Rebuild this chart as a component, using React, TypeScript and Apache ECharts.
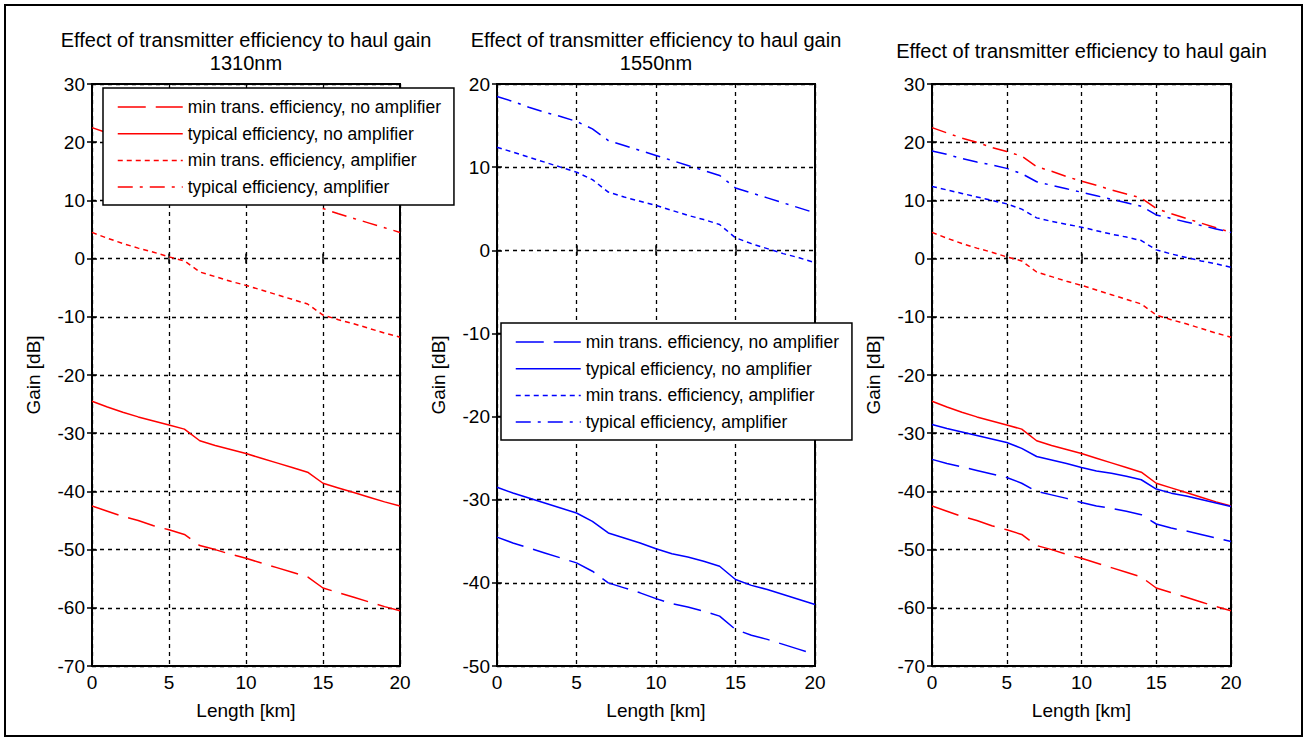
import React, { useEffect, useRef } from "react";
import * as echarts from "echarts";

// ---------- data ----------
const KM = [0, 1, 2, 3, 4, 5, 6, 7, 8, 9, 10, 11, 12, 13, 14, 15, 16, 17, 18, 19, 20];

// 1310 nm (red)
const R_MIN_NOAMP = [-42.5, -43.4, -44.3, -45.0, -45.9, -46.6, -47.4, -49.3, -50.0, -50.8, -51.5, -52.3, -53.1, -53.9, -54.7, -56.6, -57.4, -58.2, -59.0, -59.8, -60.5];
const R_TYP_NOAMP = [-24.5, -25.5, -26.4, -27.2, -27.9, -28.6, -29.3, -31.3, -32.1, -32.8, -33.5, -34.3, -35.1, -35.9, -36.7, -38.6, -39.4, -40.2, -41.0, -41.8, -42.5];
const R_MIN_AMP = [4.5, 3.5, 2.6, 1.8, 1.1, 0.3, -0.4, -2.3, -3.1, -3.9, -4.6, -5.4, -6.2, -7.0, -7.8, -9.7, -10.5, -11.2, -12.0, -12.8, -13.5];
const R_TYP_AMP = [22.5, 21.6, 20.7, 20.0, 19.1, 18.4, 17.6, 15.8, 15.0, 14.1, 13.3, 12.6, 11.8, 11.1, 10.4, 8.6, 7.7, 6.9, 6.1, 5.3, 4.5];

// 1550 nm (blue)
const B_MIN_NOAMP = [-34.5, -35.2, -35.8, -36.4, -37.0, -37.6, -38.6, -40.0, -40.6, -41.2, -41.9, -42.5, -42.9, -43.4, -44.0, -45.6, -46.3, -46.8, -47.4, -48.0, -48.6];
const B_TYP_NOAMP = [-28.5, -29.2, -29.8, -30.4, -31.0, -31.6, -32.6, -34.0, -34.6, -35.2, -35.9, -36.5, -36.9, -37.4, -38.0, -39.6, -40.3, -40.8, -41.4, -42.0, -42.6];
const B_MIN_AMP = [12.4, 11.8, 11.2, 10.6, 10.0, 9.4, 8.5, 7.0, 6.4, 5.9, 5.4, 4.8, 4.2, 3.7, 3.1, 1.5, 0.8, 0.2, -0.4, -0.9, -1.5];
const B_TYP_AMP = [18.5, 17.9, 17.2, 16.6, 16.1, 15.5, 14.6, 13.2, 12.6, 12.0, 11.4, 10.8, 10.2, 9.6, 9.0, 7.5, 6.9, 6.3, 5.7, 5.1, 4.5];

const LEGEND_LABELS = [
  "min trans. efficiency, no amplifier",
  "typical efficiency, no amplifier",
  "min trans. efficiency, amplifier",
  "typical efficiency, amplifier",
];
const TITLE_MAIN = "Effect of transmitter efficiency to haul gain";
const SUB_1310 = "1310nm";
const SUB_1550 = "1550nm";
const X_NAME = "Length [km]";
const Y_NAME = "Gain [dB]";
const X_RANGE = [0, 20];
const Y_RANGES = [
  [-70, 30],
  [-50, 20],
  [-70, 30],
];

// ---------- layout / style ----------
const FONT = "'Liberation Sans', Arial, Helvetica, sans-serif";
const RED = "#ff0000";
const BLUE = "#0000ff";
const DASHES: any[] = [[28, 10], "solid", [5, 4], [15, 7, 3, 7]];
const GRIDS = [
  { left: 92, top: 84, width: 308, height: 582 },
  { left: 497, top: 84, width: 318, height: 582 },
  { left: 932, top: 84, width: 299, height: 582 },
];

function pts(ys: number[]) {
  return KM.map((x, i) => [x, ys[i]]);
}

export default function App() {
  const ref = useRef<HTMLDivElement>(null);
  useEffect(() => {
    if (!ref.current) return;
    const chart = echarts.init(ref.current, undefined, { renderer: "svg" });

    const redSets = [R_MIN_NOAMP, R_TYP_NOAMP, R_MIN_AMP, R_TYP_AMP];
    const blueSets = [B_MIN_NOAMP, B_TYP_NOAMP, B_MIN_AMP, B_TYP_AMP];
    const labelOf: Record<string, string> = {};
    const series: any[] = [];
    const mk = (name: string, ys: number[], color: string, k: number, g: number) => ({
      type: "line",
      name,
      xAxisIndex: g,
      yAxisIndex: g,
      data: pts(ys),
      symbol: "none",
      showSymbol: false,
      smooth: false,
      silent: true,
      lineStyle: { color, width: 1.5, type: DASHES[k] },
      itemStyle: { color },
      z: 3,
    });
    redSets.forEach((ys, k) => {
      labelOf["r" + k] = LEGEND_LABELS[k];
      series.push(mk("r" + k, ys, RED, k, 0));
    });
    blueSets.forEach((ys, k) => {
      labelOf["b" + k] = LEGEND_LABELS[k];
      series.push(mk("b" + k, ys, BLUE, k, 1));
    });
    redSets.forEach((ys, k) => series.push(mk("cr" + k, ys, RED, k, 2)));
    blueSets.forEach((ys, k) => series.push(mk("cb" + k, ys, BLUE, k, 2)));

    const tick = { inside: true, length: 5, lineStyle: { color: "#000", width: 1.5 } };
    const xAxis: any[] = [];
    const yAxis: any[] = [];
    GRIDS.forEach((_, g) => {
      xAxis.push({
        type: "value",
        gridIndex: g,
        min: X_RANGE[0],
        max: X_RANGE[1],
        interval: 5,
        position: "bottom",
        axisLine: { show: false },
        axisTick: tick,
        axisLabel: { color: "#000", fontSize: 19, fontFamily: FONT, margin: 7 },
        splitLine: { show: true, lineStyle: { color: "#000", width: 1.3, type: [4, 4] } },
        name: X_NAME,
        nameLocation: "middle",
        nameGap: 35,
        nameTextStyle: { color: "#000", fontSize: 19, fontFamily: FONT },
      });
      yAxis.push({
        type: "value",
        gridIndex: g,
        min: Y_RANGES[g][0],
        max: Y_RANGES[g][1],
        interval: 10,
        position: "left",
        axisLine: { show: false },
        axisTick: tick,
        axisLabel: { color: "#000", fontSize: 19, fontFamily: FONT, margin: 7 },
        splitLine: { show: true, lineStyle: { color: "#000", width: 1.3, type: [4, 4] } },
        name: Y_NAME,
        nameLocation: "middle",
        nameGap: 49,
        nameRotate: 90,
        nameTextStyle: { color: "#000", fontSize: 19, fontFamily: FONT },
      });
    });
    GRIDS.forEach((_, g) => {
      xAxis.push({
        type: "value",
        gridIndex: g,
        min: X_RANGE[0],
        max: X_RANGE[1],
        interval: 5,
        position: "top",
        axisLine: { show: false },
        axisTick: tick,
        axisLabel: { show: false },
        splitLine: { show: false },
      });
      yAxis.push({
        type: "value",
        gridIndex: g,
        min: Y_RANGES[g][0],
        max: Y_RANGES[g][1],
        interval: 10,
        position: "right",
        axisLine: { show: false },
        axisTick: tick,
        axisLabel: { show: false },
        splitLine: { show: false },
      });
    });

    const legendBase = {
      orient: "vertical",
      selectedMode: false,
      itemWidth: 65,
      itemHeight: 20,
      itemGap: 6.7,
      padding: [9, 13, 8, 14],
      backgroundColor: "#fff",
      borderColor: "#000",
      borderWidth: 1.5,
      borderRadius: 0,
      itemStyle: {
        opacity: 0,
        color: "rgba(0,0,0,0)",
        borderColor: "rgba(0,0,0,0)",
        borderWidth: 0,
      },
      lineStyle: { width: 1.5 },
      formatter: (n: string) => labelOf[n],
      textStyle: { color: "#000", fontSize: 17.5, fontFamily: FONT, lineHeight: 20 },
      z: 10,
    };

    const titleText = (x: number, y: number, text: string) => ({
      type: "text",
      x,
      y,
      silent: true,
      style: {
        text,
        fill: "#000",
        font: `20px ${FONT}`,
        align: "center",
        verticalAlign: "middle",
      },
    });
    const cx = (g: number) => GRIDS[g].left + GRIDS[g].width / 2;

    chart.setOption({
      animation: false,
      backgroundColor: "#fff",
      grid: GRIDS.map((r) => ({
        ...r,
        show: true,
        borderColor: "#000",
        borderWidth: 2,
        backgroundColor: "transparent",
        containLabel: false,
      })),
      xAxis,
      yAxis,
      legend: [
        { ...legendBase, data: ["r0", "r1", "r2", "r3"], left: 103, top: 88 },
        { ...legendBase, data: ["b0", "b1", "b2", "b3"], left: 501, top: 323 },
      ],
      series,
      graphic: [
        {
          type: "rect",
          silent: true,
          shape: { x: 5, y: 5, width: 1297, height: 731 },
          style: { fill: "none", stroke: "#000", lineWidth: 2 },
          z: 100,
        },
        titleText(cx(0), 40, TITLE_MAIN),
        titleText(cx(0), 63, SUB_1310),
        titleText(cx(1), 40, TITLE_MAIN),
        titleText(cx(1), 63, SUB_1550),
        titleText(cx(2), 51, TITLE_MAIN),
      ],
    });
    return () => chart.dispose();
  }, []);
  return (
    <div
      ref={ref}
      style={{ position: "absolute", left: 0, top: 0, width: 1308, height: 742 }}
    />
  );
}
